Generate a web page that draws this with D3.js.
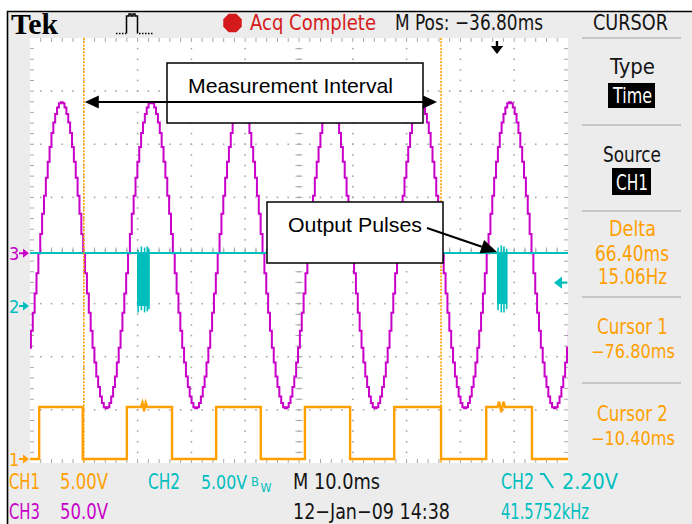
<!DOCTYPE html>
<html><head><meta charset="utf-8">
<script src="https://cdn.jsdelivr.net/npm/d3@7"></script>
<style>
body{margin:0;background:#fff}
svg{display:block}
</style></head>
<body><svg id="c" width="692" height="524"></svg>
<script>
// ---------------- DATA ----------------
// time base: 10 ms/div, M Pos -36.80 ms -> screen spans -86.8 .. 13.2 ms
const timeDomain = [-86.8, 13.2];
const ch3Start = -86.98;   // ms of first sample
const ch3Step = 0.3472;    // ms between samples
const ch3Volts = [
-89,-73,-56,-38,-19,
0,18,37,54,71,86,100,113,123,131,137,141,142,141,137,131,123,113,100,86,71,54,37,18,0,-19,-38,-56,-73,-89,-103,-116,-126,-135,-141,-145,-146,-145,-141,-135,-126,-116,-103,-89,-73,-56,-38,-19,
0,18,37,54,71,86,100,113,123,131,137,141,142,141,137,131,123,113,100,86,71,54,37,18,0,-19,-38,-56,-73,-89,-103,-116,-126,-135,-141,-145,-146,-145,-141,-135,-126,-116,-103,-89,-73,-56,-38,-19,
0,18,37,54,71,86,100,113,123,131,137,141,142,141,137,131,123,113,100,86,71,54,37,18,0,-19,-38,-56,-73,-89,-103,-116,-126,-135,-141,-145,-146,-145,-141,-135,-126,-116,-103,-89,-73,-56,-38,-19,
0,18,37,54,71,86,100,113,123,131,137,141,142,141,137,131,123,113,100,86,71,54,37,18,0,-19,-38,-56,-73,-89,-103,-116,-126,-135,-141,-145,-146,-145,-141,-135,-126,-116,-103,-89,-73,-56,-38,-19,
0,18,37,54,71,86,100,113,123,131,137,141,142,141,137,131,123,113,100,86,71,54,37,18,0,-19,-38,-56,-73,-89,-103,-116,-126,-135,-141,-145,-146,-145,-141,-135,-126,-116,-103,-89,-73,-56,-38,-19,
0,18,37,54,71,86,100,113,123,131,137,141,142,141,137,131,123,113,100,86,71,54,37,18,0,-19,-38,-56,-73,-89,-103,-116,-126,-135,-141,-145,-146,-145,-141,-135,-126,-116,-103,-89,-73,-56,-38,-19
];
// CH1 (5 V/div) square wave vertices
const ch1Time  = [-86.8,-85.1,-85.1,-77.0,-77.0,-68.8,-68.8,-66.2,-65.9,-65.6,-65.3,-65.0,-60.4,-60.4,-52.2,-52.2,-43.9,-43.9,-35.7,-35.7,-27.3,-27.3,-19.1,-19.1,-10.4,-10.4,-2.0,-2.0,0.1,0.4,0.8,1.2,1.5,6.5,6.5,13.2];
const ch1Volts = [0,0,4.9,4.9,0,0,4.9,4.9,5.3,4.5,5.3,4.9,4.9,0,0,4.9,4.9,0,0,4.9,4.9,0,0,4.9,4.9,0,0,4.9,4.9,5.4,4.4,5.4,4.9,4.9,0,0];
// CH2 (5 V/div) output pulse bursts
const ch2Level = 5.0;
const ch2BurstStart = [-66.9, 0.0];
const ch2BurstEnd   = [-64.6, 1.9];
const ch2BurstLow   = [0.0, 0.2];
const ch2SpikeTime  = [-66.7,-66.1,-65.5,-65.0,-64.7,0.2,0.8,1.3,1.8];
const ch2SpikeHigh  = [5.3,5.6,5.5,5.6,5.4,5.5,5.7,5.6,5.4];
const ch2SpikeLow   = [-0.6,-0.4,-0.6,-0.5,-0.3,-0.4,-0.6,-0.6,-0.3];
// cursors / trigger
const cursorTimes = [-76.8, -10.4];
const triggerTime = 0.0;
const triggerLevel = 2.2;
// texts
const topTexts = ["Tek", "Acq Complete", "M Pos: \u221236.80ms", "CURSOR"];
const menuTexts = ["Type", "Time", "Source", "CH1", "Delta", "66.40ms", "15.06Hz", "Cursor 1", "\u221276.80ms", "Cursor 2", "\u221210.40ms"];
const row1Texts = ["CH1", "5.00V", "CH2", "5.00V", "M 10.0ms", "CH2", "2.20V"];
const row2Texts = ["CH3", "50.0V", "12\u2212Jan\u221209 14:38", "41.5752kHz"];
const annotTexts = ["Measurement Interval", "Output Pulses"];

// ---------------- DRAW ----------------
const W = 692, H = 524;
const PX0 = 30, PX1 = 568, PY0 = 38, PY1 = 463;
const ORANGE = "#ffa000", CYAN = "#00bebe", MAG = "#c800c8", RED = "#d41a1a", INK = "#141414";
const scopeFont = "'Liberation Sans Narrow','DejaVu Sans Condensed','Arial Narrow',sans-serif";

const svg = d3.select("#c");
svg.append("rect").attr("width", W).attr("height", H).attr("fill", "#fff");
svg.append("rect").attr("x", 7).attr("y", 11).attr("width", W - 7).attr("height", H - 11).attr("fill", "#ececec");
svg.append("path").attr("d", "M7.5,524 V11.5 H692").attr("fill", "none").attr("stroke", "#000").attr("stroke-width", 1.6);

const x = d3.scaleLinear().domain(timeDomain).range([PX0, PX1]);
const xDiv = d3.scaleLinear().domain([0, 10]).range([PX0, PX1]);
const yDiv = d3.scaleLinear().domain([-4, 4]).range([PY1, PY0]);
const chanY = (vPerDiv, posDiv) => (v => yDiv(v / vPerDiv + posDiv));
const y1 = chanY(5, -3.925);
const y2 = chanY(5, -1.045);
const y3 = chanY(50, -0.05);

// plot area
svg.append("rect").attr("x", PX0).attr("y", PY0).attr("width", PX1 - PX0).attr("height", PY1 - PY0).attr("fill", "#fff");

// graticule
const grat = svg.append("g").attr("fill", "#a8a8a8").attr("stroke", "#a8a8a8");
const minorX = d3.range(1, 50).map(k => k / 5);
const minorY = d3.range(1, 40).map(k => -4 + k / 5);
for (let i = 1; i < 10; i++) {
  minorY.forEach(v => grat.append("rect").attr("x", xDiv(i) - 0.8).attr("y", yDiv(v) - 0.8).attr("width", 1.6).attr("height", 1.6).attr("stroke", "none"));
}
for (let j = -3; j <= 3; j++) {
  minorX.forEach(u => grat.append("rect").attr("x", xDiv(u) - 0.8).attr("y", yDiv(j) - 0.8).attr("width", 1.6).attr("height", 1.6).attr("stroke", "none"));
}
// edge ticks
minorX.forEach(u => {
  grat.append("line").attr("x1", xDiv(u)).attr("x2", xDiv(u)).attr("y1", PY0).attr("y2", PY0 + 4).attr("stroke-width", 1);
  grat.append("line").attr("x1", xDiv(u)).attr("x2", xDiv(u)).attr("y1", PY1).attr("y2", PY1 - 4).attr("stroke-width", 1);
  grat.append("line").attr("x1", xDiv(u)).attr("x2", xDiv(u)).attr("y1", yDiv(0) - 3).attr("y2", yDiv(0) + 3).attr("stroke-width", 1);
});
minorY.forEach(v => {
  grat.append("line").attr("x1", PX0).attr("x2", PX0 + 4).attr("y1", yDiv(v)).attr("y2", yDiv(v)).attr("stroke-width", 1);
  grat.append("line").attr("x1", PX1).attr("x2", PX1 - 4).attr("y1", yDiv(v)).attr("y2", yDiv(v)).attr("stroke-width", 1);
  grat.append("line").attr("x1", xDiv(5) - 3.5).attr("x2", xDiv(5) + 3.5).attr("y1", yDiv(v)).attr("y2", yDiv(v)).attr("stroke-width", 1);
});

// clip
svg.append("clipPath").attr("id", "plotclip").append("rect")
  .attr("x", PX0).attr("y", PY0).attr("width", PX1 - PX0).attr("height", PY1 - PY0);
const traces = svg.append("g").attr("clip-path", "url(#plotclip)");

// CH3 magenta stepped trace
const ch3Pts = ch3Volts.map((v, i) => [ch3Start + i * ch3Step, v]);
traces.append("path").datum(ch3Pts)
  .attr("d", d3.line().x(d => x(d[0])).y(d => y3(d[1])).curve(d3.curveStepAfter))
  .attr("fill", "none").attr("stroke", MAG).attr("stroke-width", 2);

// CH1 orange
const ch1Pts = ch1Time.map((t, i) => [t, ch1Volts[i]]);
traces.append("path").datum(ch1Pts)
  .attr("d", d3.line().x(d => x(d[0])).y(d => y1(d[1])))
  .attr("fill", "none").attr("stroke", ORANGE).attr("stroke-width", 2.4).attr("stroke-linejoin", "miter");

// CH2 cyan
traces.append("line").attr("x1", x(timeDomain[0])).attr("x2", x(timeDomain[1]))
  .attr("y1", y2(ch2Level)).attr("y2", y2(ch2Level)).attr("stroke", CYAN).attr("stroke-width", 2);
ch2BurstStart.forEach((s, i) => {
  traces.append("rect").attr("x", x(s)).attr("y", y2(ch2Level))
    .attr("width", x(ch2BurstEnd[i]) - x(s)).attr("height", y2(ch2BurstLow[i]) - y2(ch2Level))
    .attr("fill", CYAN);
});
ch2SpikeTime.forEach((t, i) => {
  traces.append("line").attr("x1", x(t)).attr("x2", x(t))
    .attr("y1", y2(ch2SpikeHigh[i])).attr("y2", y2(ch2SpikeLow[i]))
    .attr("stroke", CYAN).attr("stroke-width", 1.6);
});

// cursors
cursorTimes.forEach(t => {
  svg.append("line").attr("x1", x(t)).attr("x2", x(t)).attr("y1", PY0).attr("y2", PY1)
    .attr("stroke", ORANGE).attr("stroke-width", 1.6).attr("stroke-dasharray", "2,1.3");
});

// trigger position marker (top) and trigger level marker (right)
const tx = x(triggerTime);
svg.append("path").attr("d", `M${tx - 1.2},41 h2.4 v5 h5 l-6.2,8 l-6.2,-8 h5 z`).attr("fill", "#000");
const ty = y2(triggerLevel);
svg.append("path").attr("d", `M${PX1 - 1},${ty - 1.2} v2.4 h-5 v5 l-8,-6.2 l8,-6.2 v5 z`).attr("fill", CYAN);

// ground markers on the left
const gnd = [["3", y3(0), MAG], ["2", y2(0), CYAN], ["1", y1(0), ORANGE]];
gnd.forEach(([lab, gy, col]) => {
  svg.append("text").attr("x", 9).attr("y", gy + 6.5).attr("fill", col)
    .attr("font-family", scopeFont).attr("font-size", 18).text(lab);
  svg.append("path").attr("d", `M19,${gy - 1} h4 v-3.5 l6,4.5 l-6,4.5 v-3.5 h-4 z`).attr("fill", col);
});

// ---------- top bar ----------
function txt(s, tx0, ty0, w, col, size, fam, weight) {
  const t = svg.append("text").attr("x", tx0).attr("y", ty0).attr("fill", col)
    .attr("font-family", fam || scopeFont).attr("font-size", size || 21)
    .text(s);
  if (weight) t.attr("font-weight", weight);
  if (w) t.attr("textLength", w).attr("lengthAdjust", "spacingAndGlyphs");
  return t;
}
txt(topTexts[0], 11, 34, 47, "#000", 29, "'Liberation Serif','DejaVu Serif',serif", "bold");
// pulse icon
svg.append("path").attr("d", "M116,33.5 H126").attr("stroke", "#000").attr("stroke-width", 1.5).attr("stroke-dasharray", "1.5,1.5");
svg.append("path").attr("d", "M126.5,33.5 V16 H129 V14 H131 V16 H133 V14 H135 V16 H137.5 V33.5")
  .attr("fill", "none").attr("stroke", "#000").attr("stroke-width", 1.5);
svg.append("path").attr("d", "M139,33.5 H154").attr("stroke", "#000").attr("stroke-width", 1.5).attr("stroke-dasharray", "1.5,1.5");
// red stop octagon
const oct = d3.range(8).map(k => {
  const a = Math.PI / 8 + k * Math.PI / 4;
  return [232.5 + 10 * Math.cos(a), 23 + 10 * Math.sin(a)];
});
svg.append("path").attr("d", "M" + oct.join("L") + "Z").attr("fill", RED);
txt(topTexts[1], 250, 30, 126, RED, 21);
txt(topTexts[2], 395, 30, 148, INK, 21);
txt(topTexts[3], 593, 30, 75, INK, 21);

// ---------- right menu ----------
[38, 125, 211, 297, 383].forEach(sy => {
  svg.append("line").attr("x1", 582).attr("x2", 681).attr("y1", sy).attr("y2", sy)
    .attr("stroke", "#c6c6c6").attr("stroke-width", 2);
});
svg.append("rect").attr("x", 608).attr("y", 83).attr("width", 47).attr("height", 25).attr("fill", "#000");
svg.append("rect").attr("x", 612).attr("y", 168).attr("width", 39).attr("height", 27).attr("fill", "#000");
const menuLayout = [
  [610, 74, 45, INK, 21], [613, 103, 39, "#fff", 21], [603, 162, 58, INK, 21], [616, 190, 32, "#fff", 21],
  [609, 236, 47, ORANGE, 21], [595, 261, 74, ORANGE, 21], [598, 284, 69, ORANGE, 21],
  [597, 334, 71, ORANGE, 21], [591, 358, 84, ORANGE, 19], [597, 421, 71, ORANGE, 21], [591, 445, 84, ORANGE, 19]
];
menuTexts.forEach((s, i) => {
  const [mx, my, mw, mc, ms] = menuLayout[i];
  txt(s, mx, my, mw, mc, ms);
});

// ---------- bottom readouts ----------
const r1 = 489, r2 = 519;
txt(row1Texts[0], 9, r1, 31, ORANGE, 21);
txt(row1Texts[1], 60, r1, 48, ORANGE, 21);
txt(row1Texts[2], 148, r1, 32, CYAN, 21);
txt(row1Texts[3], 201, r1, 46, CYAN, 19);
txt("B", 251, r1 - 3, 8, CYAN, 13);
txt("W", 260.5, r1 + 3, 11, CYAN, 13);
txt(row1Texts[4], 293, r1, 87, INK, 21);
txt(row1Texts[5], 501, r1, 33, CYAN, 21);
svg.append("path").attr("d", `M540,${r1 - 15} h4 l9,14`).attr("fill", "none").attr("stroke", CYAN).attr("stroke-width", 2);
txt(row1Texts[6], 562, r1, 56, CYAN, 21);
txt(row2Texts[0], 9, r2, 31, MAG, 21);
txt(row2Texts[1], 60, r2, 48, MAG, 21);
txt(row2Texts[2], 293, r2, 157, INK, 21);
txt(row2Texts[3], 501, r2, 88, CYAN, 21);

// ---------- annotations ----------
const ann = svg.append("g");
ann.append("rect").attr("x", 167).attr("y", 63).attr("width", 256).attr("height", 60)
  .attr("fill", "#fff").attr("stroke", "#000").attr("stroke-width", 1.5);
ann.append("text").attr("x", 188).attr("y", 93).attr("font-family", "'Liberation Sans',Arial,sans-serif")
  .attr("font-size", 21).attr("fill", "#000").attr("textLength", 205).attr("lengthAdjust", "spacingAndGlyphs").text(annotTexts[0]);
const ay = 102;
const axL = x(cursorTimes[0]) + 1, axR = x(cursorTimes[1]) - 4;
ann.append("line").attr("x1", axL + 10).attr("x2", axR - 10).attr("y1", ay).attr("y2", ay).attr("stroke", "#000").attr("stroke-width", 2);
ann.append("path").attr("d", `M${axL},${ay} l14,-6.5 v13 z`).attr("fill", "#000");
ann.append("path").attr("d", `M${axR},${ay} l-14,-6.5 v13 z`).attr("fill", "#000");

ann.append("rect").attr("x", 267).attr("y", 202).attr("width", 176).attr("height", 61)
  .attr("fill", "#fff").attr("stroke", "#000").attr("stroke-width", 1.5);
ann.append("text").attr("x", 288).attr("y", 232).attr("font-family", "'Liberation Sans',Arial,sans-serif")
  .attr("font-size", 21).attr("fill", "#000").attr("textLength", 134).attr("lengthAdjust", "spacingAndGlyphs").text(annotTexts[1]);
const tipX = x(ch2BurstStart[1]), tipY = y2(ch2Level) - 1;
const sx = 427, sy = 228;
const ang = Math.atan2(tipY - sy, tipX - sx);
const hl = 16, hw = 7;
const bx = tipX - hl * Math.cos(ang), by = tipY - hl * Math.sin(ang);
ann.append("line").attr("x1", sx).attr("y1", sy).attr("x2", bx).attr("y2", by).attr("stroke", "#000").attr("stroke-width", 2);
ann.append("path").attr("d", `M${tipX},${tipY} L${bx + hw * Math.sin(ang)},${by - hw * Math.cos(ang)} L${bx - hw * Math.sin(ang)},${by + hw * Math.cos(ang)} Z`).attr("fill", "#000");
</script>
</body></html>
